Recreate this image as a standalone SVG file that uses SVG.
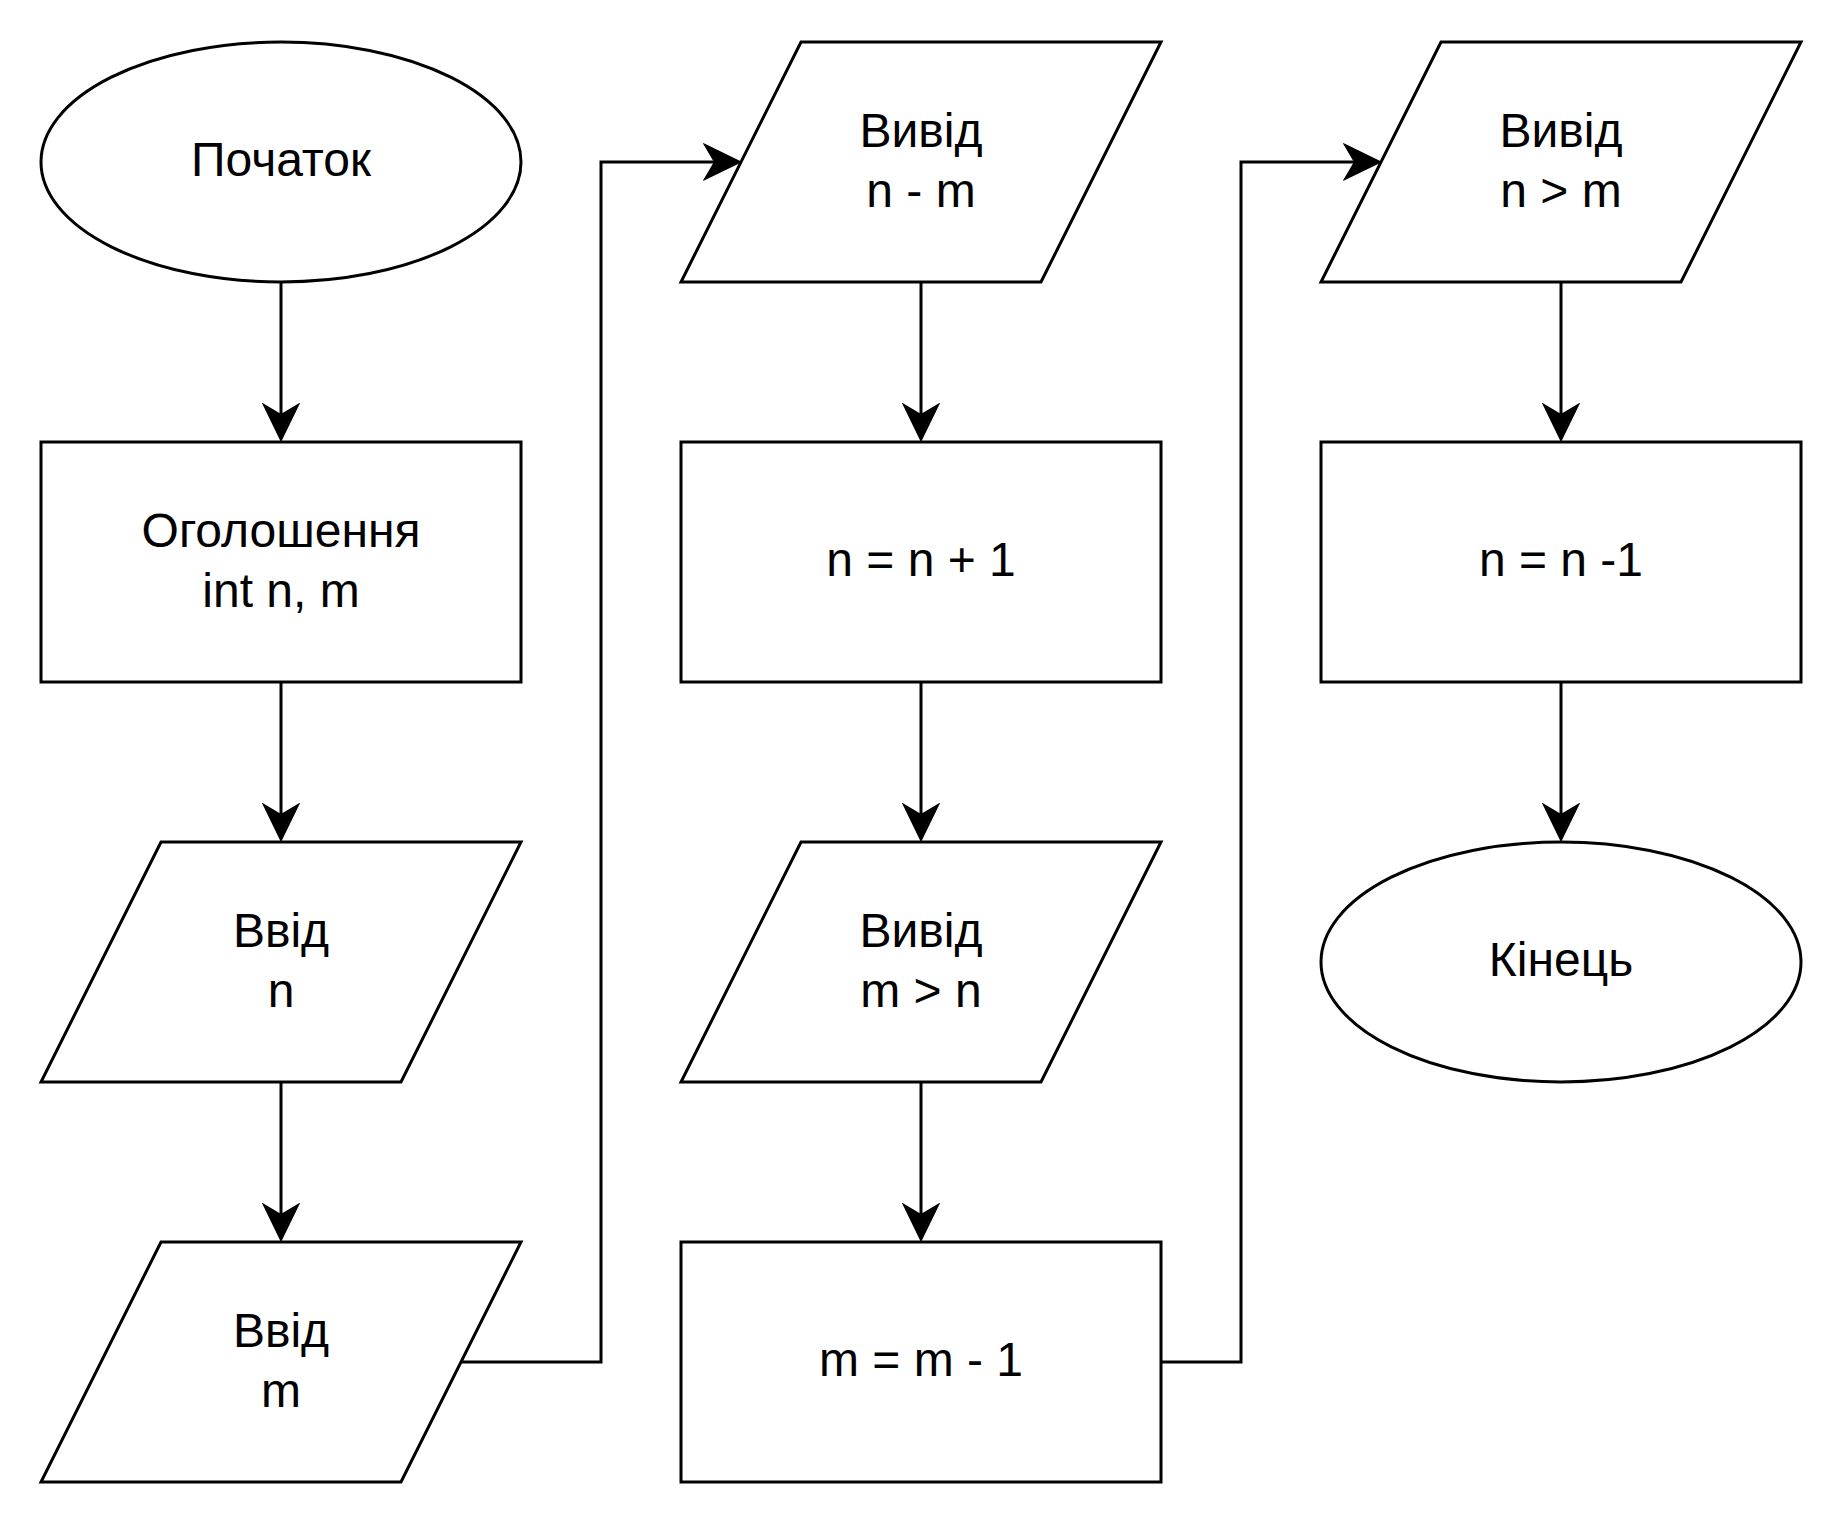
<svg xmlns="http://www.w3.org/2000/svg" width="1844" height="1524" viewBox="0 0 1844 1524">
<style>
.s{fill:#fff;stroke:#000;stroke-width:3}
.c{fill:none;stroke:#000;stroke-width:3}
.t{font-family:"Liberation Sans",Arial,sans-serif;font-size:48px;fill:#000;text-anchor:middle}
</style>
<defs>
<marker id="arr" markerUnits="userSpaceOnUse" viewBox="-2 -20 40 40" refX="26" refY="0" markerWidth="40" markerHeight="40" orient="auto">
<path d="M0,-17 L35,0 L0,17 L10,0 Z" fill="#000" stroke="#000" stroke-width="2" stroke-linejoin="miter"/>
</marker>
</defs>
<rect width="1844" height="1524" fill="#fff"/>
<g id="connectors">
<path class="c" d="M281,282 V431" marker-end="url(#arr)"/>
<path class="c" d="M281,682 V831" marker-end="url(#arr)"/>
<path class="c" d="M281,1082 V1231" marker-end="url(#arr)"/>
<path class="c" d="M462,1362 H601 V162 H731" marker-end="url(#arr)"/>
<path class="c" d="M921,282 V431" marker-end="url(#arr)"/>
<path class="c" d="M921,682 V831" marker-end="url(#arr)"/>
<path class="c" d="M921,1082 V1231" marker-end="url(#arr)"/>
<path class="c" d="M1161,1362 H1241 V162 H1371" marker-end="url(#arr)"/>
<path class="c" d="M1561,282 V431" marker-end="url(#arr)"/>
<path class="c" d="M1561,682 V831" marker-end="url(#arr)"/>
</g>
<g id="start">
<ellipse class="s" cx="281" cy="162" rx="240" ry="120"/>
<text class="t" x="281" y="176">Початок</text>
</g>
<g id="declare">
<rect class="s" x="41" y="442" width="480" height="240"/>
<text class="t" x="281" y="547">Оголошення</text>
<text class="t" x="281" y="607">int n, m</text>
</g>
<g id="input-n">
<polygon class="s" points="161,842 521,842 401,1082 41,1082"/>
<text class="t" x="281" y="947">Ввід</text>
<text class="t" x="281" y="1007">n</text>
</g>
<g id="input-m">
<polygon class="s" points="161,1242 521,1242 401,1482 41,1482"/>
<text class="t" x="281" y="1347">Ввід</text>
<text class="t" x="281" y="1407">m</text>
</g>
<g id="output-diff">
<polygon class="s" points="801,42 1161,42 1041,282 681,282"/>
<text class="t" x="921" y="147">Вивід</text>
<text class="t" x="921" y="207">n - m</text>
</g>
<g id="inc-n">
<rect class="s" x="681" y="442" width="480" height="240"/>
<text class="t" x="921" y="576">n = n + 1</text>
</g>
<g id="output-mgtn">
<polygon class="s" points="801,842 1161,842 1041,1082 681,1082"/>
<text class="t" x="921" y="947">Вивід</text>
<text class="t" x="921" y="1007">m &gt; n</text>
</g>
<g id="dec-m">
<rect class="s" x="681" y="1242" width="480" height="240"/>
<text class="t" x="921" y="1376">m = m - 1</text>
</g>
<g id="output-ngtm">
<polygon class="s" points="1441,42 1801,42 1681,282 1321,282"/>
<text class="t" x="1561" y="147">Вивід</text>
<text class="t" x="1561" y="207">n &gt; m</text>
</g>
<g id="dec-n">
<rect class="s" x="1321" y="442" width="480" height="240"/>
<text class="t" x="1561" y="576">n = n -1</text>
</g>
<g id="end">
<ellipse class="s" cx="1561" cy="962" rx="240" ry="120"/>
<text class="t" x="1561" y="976">Кінець</text>
</g>
</svg>
